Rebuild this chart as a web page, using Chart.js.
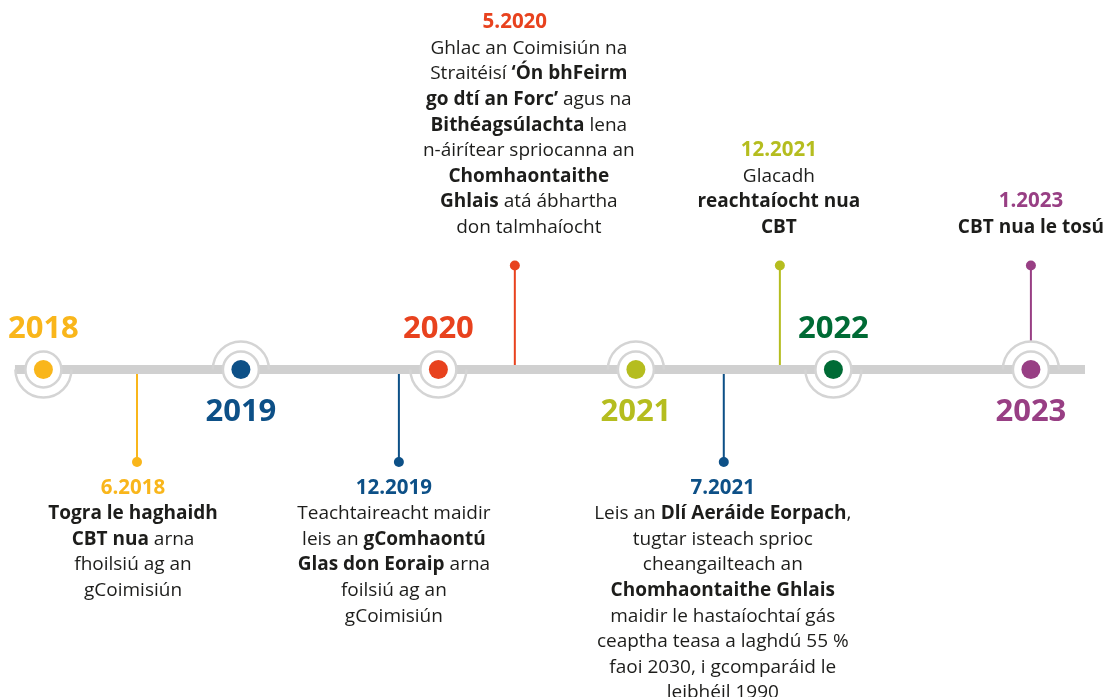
<!DOCTYPE html>
<html>
<head>
<meta charset="utf-8">
<script src="https://cdn.jsdelivr.net/npm/chart.js@4"></script>
<style>
  html, body { margin: 0; padding: 0; background: #fff; }
  #wrap { width: 1113px; height: 697px; }
</style>
</head>
<body>
<div id="wrap"><canvas id="timelineChart" width="1113" height="697"></canvas></div>
<script>
// Timeline data
const years = [2018, 2019, 2020, 2021, 2022, 2023];
const yearColors = ['#f9b61b', '#0d5087', '#e8421e', '#b5bd1f', '#006b35', '#983f84'];
const yearLabelSide = ['above', 'below', 'above', 'below', 'above', 'below'];

const eventDates = [2018.474, 2019.80, 2020.387, 2021.445, 2021.729, 2023.0];
const eventTitles = ['6.2018', '12.2019', '5.2020', '7.2021', '12.2021', '1.2023'];
const eventColors = ['#f9b61b', '#0d5087', '#e8421e', '#0d5087', '#b5bd1f', '#983f84'];
const eventSide = ['below', 'below', 'above', 'below', 'above', 'above'];
// **...** marks bold parts
const eventLines = [
  ['**Togra le haghaidh**', '**CBT nua** arna', 'fhoilsiú ag an', 'gCoimisiún'],
  ['Teachtaireacht maidir', 'leis an **gComhaontú**', '**Glas don Eoraip** arna', 'foilsiú ag an', 'gCoimisiún'],
  ['Ghlac an Coimisiún na', 'Straitéisí **‘Ón bhFeirm**', '**go dtí an Forc’** agus na', '**Bithéagsúlachta** lena',
   'n-áirítear spriocanna an', '**Chomhaontaithe**', '**Ghlais** atá ábhartha', 'don talmhaíocht'],
  ['Leis an **Dlí Aeráide Eorpach**,', 'tugtar isteach sprioc', 'cheangailteach an', '**Chomhaontaithe Ghlais**',
   'maidir le hastaíochtaí gás', 'ceaptha teasa a laghdú 55 %', 'faoi 2030, i gcomparáid le', 'leibhéil 1990'],
  ['Glacadh', '**reachtaíocht nua**', '**CBT**'],
  ['**CBT nua le tosú**']
];

const timelineStart = 2017.856;
const timelineEnd = 2023.274;

// layout (pixels)
const FONT = '"Open Sans", sans-serif';
const RING = 28;
const STEM_UP = 104;
const STEM_DOWN = 92.5;
const LINE_H = 25.6;
const titleShift = [-4, -5, 0, -1, -1, 0];
const bodyShift = [-4, -5, 14, -1, -1, 0];

const stemSets = eventDates.map((d, i) => {
  const up = eventSide[i] === 'above';
  const onYear = years.some(y => Math.abs(y - d) < 0.01);
  const start = onYear ? (up ? RING : -RING) : 0;
  return {
    type: 'scatter',
    data: [{ x: d, y: start }, { x: d, y: up ? STEM_UP : -STEM_DOWN }],
    showLine: true,
    borderColor: eventColors[i],
    borderWidth: 2,
    pointRadius: [0, 5],
    pointBackgroundColor: eventColors[i],
    pointBorderWidth: 0,
    order: 5
  };
});

function drawRich(ctx, line, cx, y, size) {
  const parts = line.split('**');
  const regular = '400 ' + size + 'px ' + FONT;
  const bold = '700 ' + size + 'px ' + FONT;
  let total = 0;
  parts.forEach((p, k) => {
    ctx.font = k % 2 ? bold : regular;
    total += ctx.measureText(p).width;
  });
  let x = cx - total / 2;
  ctx.textAlign = 'left';
  parts.forEach((p, k) => {
    ctx.font = k % 2 ? bold : regular;
    ctx.fillText(p, x, y);
    x += ctx.measureText(p).width;
  });
}

const timelinePlugin = {
  id: 'timelineDecor',
  afterDatasetsDraw(chart) {
    const ctx = chart.ctx;
    const xs = chart.scales.x, ys = chart.scales.y;
    const y0 = ys.getPixelForValue(0);
    ctx.save();
    ctx.strokeStyle = '#d4d4d4';
    ctx.lineWidth = 2.5;
    years.forEach((yr, i) => {
      const px = xs.getPixelForValue(yr);
      ctx.beginPath();
      if (yearLabelSide[i] === 'above') ctx.arc(px, y0, RING, 0, Math.PI);
      else ctx.arc(px, y0, RING, Math.PI, 2 * Math.PI);
      ctx.stroke();
    });
    ctx.restore();
  },
  afterDraw(chart) {
    const ctx = chart.ctx;
    const xs = chart.scales.x, ys = chart.scales.y;
    const y0 = ys.getPixelForValue(0);
    ctx.save();
    ctx.textBaseline = 'alphabetic';
    // year labels
    years.forEach((yr, i) => {
      const px = xs.getPixelForValue(yr);
      ctx.font = '700 31px ' + FONT;
      ctx.fillStyle = yearColors[i];
      ctx.textAlign = 'center';
      ctx.fillText(String(yr), px, yearLabelSide[i] === 'above' ? y0 - 31.5 : y0 + 51);
    });
    // event labels
    eventDates.forEach((d, i) => {
      const px = xs.getPixelForValue(d);
      const lines = eventLines[i];
      let first;
      if (eventSide[i] === 'above') first = y0 - 136.5 - lines.length * LINE_H;
      else first = y0 + 124;
      ctx.font = '700 20.5px ' + FONT;
      ctx.fillStyle = eventColors[i];
      ctx.textAlign = 'center';
      ctx.fillText(eventTitles[i], px + titleShift[i], first);
      ctx.fillStyle = '#1d1d1b';
      lines.forEach((ln, k) => {
        drawRich(ctx, ln, px + bodyShift[i], first + (k + 1) * LINE_H, 19);
      });
    });
    ctx.restore();
  }
};

new Chart(document.getElementById('timelineChart').getContext('2d'), {
  type: 'scatter',
  data: {
    datasets: [
      {
        data: years.map(y => ({ x: y, y: 0 })),
        pointRadius: 9.5,
        pointBackgroundColor: yearColors,
        pointBorderWidth: 0,
        showLine: false,
        order: 1
      },
      {
        data: years.map(y => ({ x: y, y: 0 })),
        pointRadius: 18,
        pointBackgroundColor: '#ffffff',
        pointBorderColor: '#d4d4d4',
        pointBorderWidth: 2.5,
        showLine: false,
        order: 2
      },
      {
        data: [{ x: timelineStart, y: 0 }, { x: timelineEnd, y: 0 }],
        showLine: true,
        borderColor: '#d0d0d0',
        borderWidth: 9,
        borderCapStyle: 'butt',
        pointRadius: 0,
        order: 3
      },
      ...stemSets
    ]
  },
  options: {
    responsive: false,
    devicePixelRatio: 1,
    animation: false,
    events: [],
    layout: { padding: 0, autoPadding: false },
    plugins: { legend: { display: false }, tooltip: { enabled: false } },
    scales: {
      x: { type: 'linear', min: 2017.7803, max: 2023.4157, display: false },
      y: { type: 'linear', min: -327.5, max: 369.5, display: false }
    }
  },
  plugins: [timelinePlugin]
});
</script>
</body>
</html>
